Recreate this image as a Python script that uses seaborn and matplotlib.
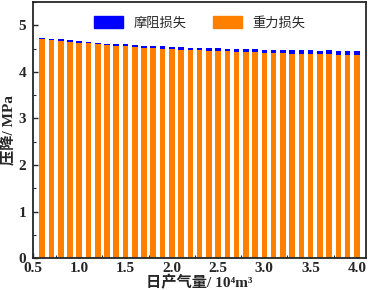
import matplotlib
matplotlib.use("Agg")
import matplotlib.pyplot as plt
import seaborn as sns
import numpy as np
import pandas as pd
from matplotlib.patches import Patch
from matplotlib.ticker import MultipleLocator

# Data
gas_rate = [0.6, 0.7, 0.8, 0.9, 1.0, 1.1, 1.2, 1.3, 1.4, 1.5, 1.6, 1.7, 1.8, 1.9,
            2.0, 2.1, 2.2, 2.3, 2.4, 2.5, 2.6, 2.7, 2.8, 2.9, 3.0, 3.1, 3.2, 3.3,
            3.4, 3.5, 3.6, 3.7, 3.8, 3.9, 4.0]
gravity_loss = [4.71, 4.69, 4.67, 4.65, 4.63, 4.61, 4.59, 4.57, 4.56, 4.55, 4.54,
                4.52, 4.51, 4.50, 4.49, 4.48, 4.47, 4.46, 4.45, 4.45, 4.44, 4.43,
                4.42, 4.42, 4.41, 4.41, 4.40, 4.39, 4.39, 4.39, 4.38, 4.38, 4.37,
                4.36, 4.36]
friction_loss = [0.025, 0.026, 0.028, 0.029, 0.031, 0.033, 0.034, 0.036, 0.038,
                 0.040, 0.042, 0.043, 0.045, 0.047, 0.049, 0.050, 0.052, 0.054,
                 0.056, 0.058, 0.059, 0.061, 0.063, 0.065, 0.067, 0.068, 0.070,
                 0.072, 0.074, 0.076, 0.077, 0.079, 0.081, 0.083, 0.085]
labels = ["摩阻损失", "重力损失"]

df = pd.DataFrame({"q": gas_rate, "gravity": gravity_loss, "friction": friction_loss})
df["total"] = df["gravity"] + df["friction"]

sns.set_style("ticks")
plt.rcParams["font.family"] = ["Liberation Serif", "Noto Sans CJK SC", "DejaVu Serif"]

blue = "#0000FF"
orange = "#FF8000"

fig = plt.figure(figsize=(3.68, 2.90), dpi=100)
ax = fig.add_axes([0.0897, 0.110, 0.905, 0.883])

sns.barplot(data=df, x="q", y="total", native_scale=True, width=0.6,
            color=blue, saturation=1, ax=ax, errorbar=None, linewidth=0)
sns.barplot(data=df, x="q", y="gravity", native_scale=True, width=0.6,
            color=orange, saturation=1, ax=ax, errorbar=None, linewidth=0)

ax.set_xlim(0.5, 4.1)
ax.set_ylim(0, 5.5)
ax.xaxis.set_minor_locator(MultipleLocator(0.25))
ax.yaxis.set_minor_locator(MultipleLocator(0.5))
xt = np.arange(0.5, 4.01, 0.5)
ax.set_xticks(xt)
ax.set_xticklabels([f"{v:.1f}" for v in xt])
ax.set_yticks(range(0, 6))
ax.set_yticklabels([str(v) for v in range(0, 6)])

ax.tick_params(axis="both", which="major", direction="in", length=3.5, width=1.0,
               labelsize=11)
ax.tick_params(axis="x", which="major", pad=3)
ax.tick_params(axis="y", which="major", pad=5)
ax.tick_params(axis="both", which="minor", direction="in", length=2, width=0.8)
for lab in ax.get_xticklabels() + ax.get_yticklabels():
    lab.set_fontweight("bold")
for sp in ax.spines.values():
    sp.set_visible(True)
    sp.set_linewidth(1.3)

ax.set_xlabel("日产气量/ 10⁴m³", fontsize=11, labelpad=0, fontweight="bold")
ax.set_ylabel("压降/ MPa", fontsize=11, labelpad=1, fontweight="bold")

handles = [Patch(facecolor=blue, edgecolor=blue), Patch(facecolor=orange, edgecolor=orange)]
ax.legend(handles, labels, loc="upper center", ncol=2, frameon=False,
          fontsize=9.5, handlelength=2.2, handleheight=1.0, columnspacing=2.0,
          bbox_to_anchor=(0.5, 0.99))

fig.savefig("out.png", dpi=100)
